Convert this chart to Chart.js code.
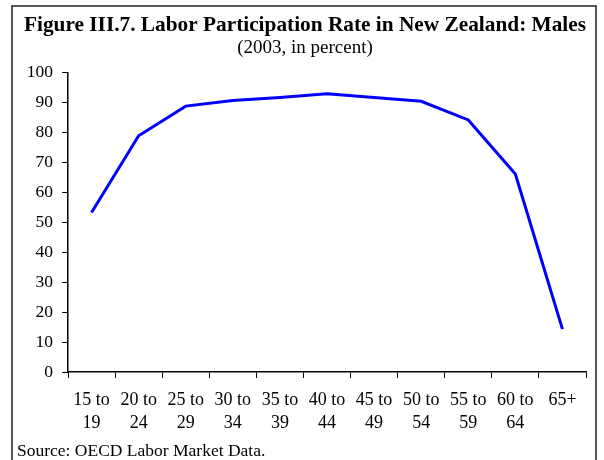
<!DOCTYPE html>
<html>
<head>
<meta charset="utf-8">
<script src="https://cdn.jsdelivr.net/npm/chart.js@4"></script>
<style>
  html, body { margin: 0; padding: 0; background: #fff; }
  #wrap { width: 604px; height: 460px; position: relative; }
</style>
</head>
<body>
<div id="wrap"><canvas id="c" width="604" height="460"></canvas></div>
<script>
const categories = [
  ['15 to', '19'], ['20 to', '24'], ['25 to', '29'], ['30 to', '34'],
  ['35 to', '39'], ['40 to', '44'], ['45 to', '49'], ['50 to', '54'],
  ['55 to', '59'], ['60 to', '64'], ['65+', '']
];
const participationMales = [53.3, 78.9, 88.8, 90.7, 91.7, 92.9, 91.7, 90.4, 84.2, 66.1, 14.3];
const yTicks = [0, 10, 20, 30, 40, 50, 60, 70, 80, 90, 100];
const titleText = 'Figure III.7. Labor Participation Rate in New Zealand: Males';
const subtitleText = '(2003, in percent)';
const sourceText = 'Source: OECD Labor Market Data.';

const SERIF = "'Liberation Serif', 'Times New Roman', serif";

const framePlugin = {
  id: 'frame',
  afterDraw(chart) {
    const ctx = chart.ctx;
    ctx.save();
    ctx.strokeStyle = '#222';
    ctx.lineWidth = 1.5;
    ctx.beginPath();
    ctx.moveTo(12, 470);
    ctx.lineTo(12, 6);
    ctx.lineTo(596, 6);
    ctx.lineTo(596, 470);
    ctx.stroke();
    ctx.fillStyle = '#000';
    ctx.font = '17.5px ' + SERIF;
    ctx.textAlign = 'left';
    ctx.textBaseline = 'alphabetic';
    ctx.fillText(sourceText, 17, 456);
    ctx.restore();
  }
};

new Chart(document.getElementById('c'), {
  type: 'line',
  data: {
    labels: categories,
    datasets: [{
      data: participationMales,
      borderColor: '#0000FF',
      borderWidth: 3,
      pointRadius: 0,
      tension: 0,
      fill: false
    }]
  },
  options: {
    responsive: false,
    animation: false,
    layout: { padding: { left: 24, right: 18, top: 0, bottom: 0 } },
    plugins: {
      legend: { display: false },
      tooltip: { enabled: false },
      title: {
        display: true,
        text: titleText,
        color: '#000',
        font: { family: SERIF, size: 21.5, weight: 'bold', lineHeight: 1.2 },
        padding: { top: 12.8, bottom: 0 }
      },
      subtitle: {
        display: true,
        text: subtitleText,
        color: '#000',
        font: { family: SERIF, size: 19, weight: 'normal', lineHeight: 1.0 },
        padding: { top: 0, bottom: 15 }
      }
    },
    scales: {
      x: {
        type: 'category',
        offset: true,
        grid: { offset: true, drawOnChartArea: false, drawTicks: true, tickLength: 6, color: '#000', tickWidth: 1 },
        border: { color: '#000', width: 1.5 },
        ticks: {
          color: '#000',
          font: { family: SERIF, size: 18, lineHeight: 1.26 },
          maxRotation: 0, minRotation: 0, autoSkip: false, padding: 11
        },
        afterFit(scale) { scale.height = 88; }
      },
      y: {
        min: 0, max: 100,
        afterBuildTicks(scale) { scale.ticks = yTicks.map(v => ({ value: v })); },
        grid: { drawOnChartArea: false, drawTicks: true, tickLength: 6, color: '#000' },
        border: { color: '#000', width: 1.5 },
        ticks: { color: '#000', font: { family: SERIF, size: 17.5 }, padding: 9 },
        afterFit(scale) { scale.width = 44; }
      }
    }
  },
  plugins: [framePlugin]
});
</script>
</body>
</html>
